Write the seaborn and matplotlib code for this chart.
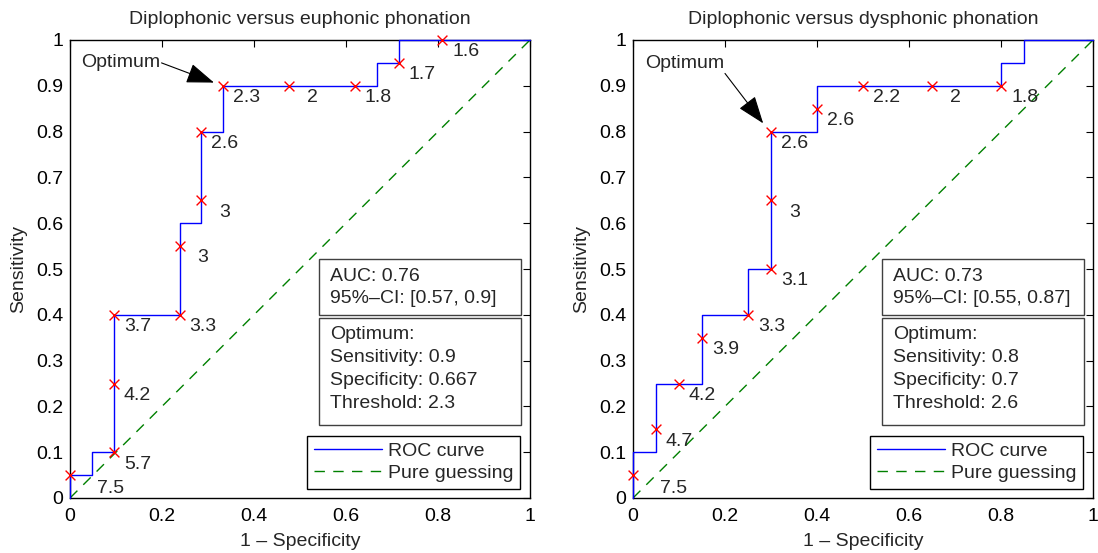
import matplotlib
matplotlib.use("Agg")
import matplotlib.pyplot as plt
import seaborn as sns
import pandas as pd
from matplotlib.patches import Rectangle

# ---------------- data ----------------
titles = ["Diplophonic versus euphonic phonation",
          "Diplophonic versus dysphonic phonation"]

# ROC curve corner points (drawn as steps-post)
left_curve_fpr = [0, 0, 1/21, 2/21, 5/21, 6/21, 7/21, 14/21, 15/21, 1]
left_curve_tpr = [0, 0.05, 0.10, 0.40, 0.60, 0.80, 0.90, 0.95, 1.00, 1.00]
right_curve_fpr = [0, 0, 0.05, 0.15, 0.25, 0.30, 0.40, 0.80, 0.85, 1]
right_curve_tpr = [0, 0.10, 0.25, 0.40, 0.50, 0.80, 0.90, 0.95, 1.00, 1.00]

# threshold markers
left_pts_fpr = [0, 2/21, 2/21, 2/21, 5/21, 5/21, 6/21, 6/21, 7/21, 10/21, 13/21, 15/21, 17/21]
left_pts_tpr = [0.05, 0.10, 0.25, 0.40, 0.40, 0.55, 0.65, 0.80, 0.90, 0.90, 0.90, 0.95, 1.00]
left_thresholds = ["7.5", "5.7", "4.2", "3.7", "3.3", "3", "3", "2.6", "2.3", "2", "1.8", "1.7", "1.6"]
right_pts_fpr = [0, 0.05, 0.10, 0.15, 0.25, 0.30, 0.30, 0.30, 0.40, 0.50, 0.65, 0.80]
right_pts_tpr = [0.05, 0.15, 0.25, 0.35, 0.40, 0.50, 0.65, 0.80, 0.85, 0.90, 0.90, 0.90]
right_thresholds = ["7.5", "4.7", "4.2", "3.9", "3.3", "3.1", "3", "2.6", "2.6", "2.2", "2", "1.8"]

guess_x = [0, 1]
guess_y = [0, 1]

auc_values = ["0.76", "0.73"]
ci_values = ["[0.57, 0.9]", "[0.55, 0.87]"]
opt_sens = ["0.9", "0.8"]
opt_spec = ["0.667", "0.7"]
opt_thr = ["2.3", "2.6"]

x_ticks = [0, 0.2, 0.4, 0.6, 0.8, 1]
x_ticklabels = ["0", "0.2", "0.4", "0.6", "0.8", "1"]
y_ticks = [0, 0.1, 0.2, 0.3, 0.4, 0.5, 0.6, 0.7, 0.8, 0.9, 1]
y_ticklabels = ["0", "0.1", "0.2", "0.3", "0.4", "0.5", "0.6", "0.7", "0.8", "0.9", "1"]

# ---------------- style ----------------
sns.set_style("white")
plt.rcParams["font.family"] = ["Liberation Sans", "DejaVu Sans"]
FS = 14

fig = plt.figure(figsize=(10.98, 5.53), dpi=100)
ax_l = fig.add_axes([70/1098, 1-498/553, 460/1098, 458/553])
ax_r = fig.add_axes([633/1098, 1-498/553, 460/1098, 458/553])

panels = [
    (ax_l, left_curve_fpr, left_curve_tpr, left_pts_fpr, left_pts_tpr, left_thresholds,
     ((0.025, 0.951), (0.199, 0.950), (0.313, 0.907))),
    (ax_r, right_curve_fpr, right_curve_tpr, right_pts_fpr, right_pts_tpr, right_thresholds,
     ((0.026, 0.949), (0.200, 0.927), (0.283, 0.818))),
]

for i, (ax, cfx, cfy, px, py, thr, arrow) in enumerate(panels):
    sns.lineplot(x=guess_x, y=guess_y, ax=ax, color=(0, 0.5, 0), lw=1.0,
                 linestyle=(0, (7.5, 6)), label="Pure guessing", zorder=2)
    sns.lineplot(x=cfx, y=cfy, ax=ax, color=(0, 0, 1), lw=1.0, sort=False,
                 estimator=None, drawstyle="steps-post", label="ROC curve",
                 zorder=3, clip_on=False)
    sns.scatterplot(x=px, y=py, ax=ax, marker="x", color=(1, 0, 0), s=50,
                    linewidth=1.0, zorder=4, clip_on=False, legend=False)
    for xv, yv, t in zip(px, py, thr):
        off = (29, -10) if (xv == 0) else (17, -8.5)
        ax.annotate(t, (xv, yv), xytext=off, textcoords="offset points",
                    ha="center", va="center", fontsize=FS)

    ax.set_xlim(0, 1)
    ax.set_ylim(0, 1)
    ax.set_xticks(x_ticks)
    ax.set_xticklabels(x_ticklabels)
    ax.set_yticks(y_ticks)
    ax.set_yticklabels(y_ticklabels)
    ax.tick_params(direction="in", length=5, width=0.8, top=True, right=True,
                   labelsize=FS, colors="black")
    ax.tick_params(axis="x", pad=7)
    ax.tick_params(axis="y", pad=5)
    for sp in ax.spines.values():
        sp.set_visible(True)
        sp.set_color("black")
        sp.set_linewidth(1.0)
    ax.set_title(titles[i], fontsize=FS, pad=11.5)
    ax.set_xlabel("1 – Specificity", fontsize=FS, labelpad=6)
    ax.set_ylabel("Sensitivity", fontsize=FS, labelpad=6)

    # Optimum arrow
    (tx, ty), (sx, sy), (hx, hy) = arrow
    ax.text(tx, ty, "Optimum", fontsize=FS, ha="left", va="center")
    ax.annotate("", xy=(hx, hy), xytext=(sx, sy),
                arrowprops=dict(arrowstyle="-|>,head_length=1.15,head_width=0.42",
                                mutation_scale=15, color="black", lw=0.8,
                                shrinkA=0, shrinkB=0))

    # info boxes
    x0, x1 = 0.542, 0.980
    ax.add_patch(Rectangle((x0, 0.3996), x1 - x0, 0.521 - 0.3996, transform=ax.transAxes,
                           fill=True, facecolor="white", edgecolor="#404040", lw=1.0, zorder=5))
    ax.add_patch(Rectangle((x0, 0.159), x1 - x0, 0.392 - 0.159, transform=ax.transAxes,
                           fill=True, facecolor="white", edgecolor="#404040", lw=1.0, zorder=5))
    lines_auc = [f"AUC: {auc_values[i]}", f"95%–CI: {ci_values[i]}"]
    lines_opt = ["Optimum:", f"Sensitivity: {opt_sens[i]}",
                 f"Specificity: {opt_spec[i]}", f"Threshold: {opt_thr[i]}"]
    for txt, yy in zip(lines_auc, [0.4847, 0.436]):
        ax.text(0.5645, yy, txt, transform=ax.transAxes, fontsize=FS,
                ha="left", va="center", zorder=6)
    for txt, yy in zip(lines_opt, [0.356, 0.307, 0.2576, 0.2068]):
        ax.text(0.5645, yy, txt, transform=ax.transAxes, fontsize=FS,
                ha="left", va="center", zorder=6)

    roc_line, guess_line = ax.get_lines()[1], ax.get_lines()[0]
    leg = ax.legend(handles=[roc_line, guess_line], loc="lower right",
                    bbox_to_anchor=(0.978, 0.02), borderaxespad=0, fontsize=FS,
                    frameon=True, fancybox=False, framealpha=1, edgecolor="black",
                    handlelength=3.5, handletextpad=0.3, borderpad=0.35,
                    labelspacing=0.22)
    leg.get_frame().set_linewidth(1.0)
    leg.set_zorder(6)

fig.savefig("out.png", dpi=100)
